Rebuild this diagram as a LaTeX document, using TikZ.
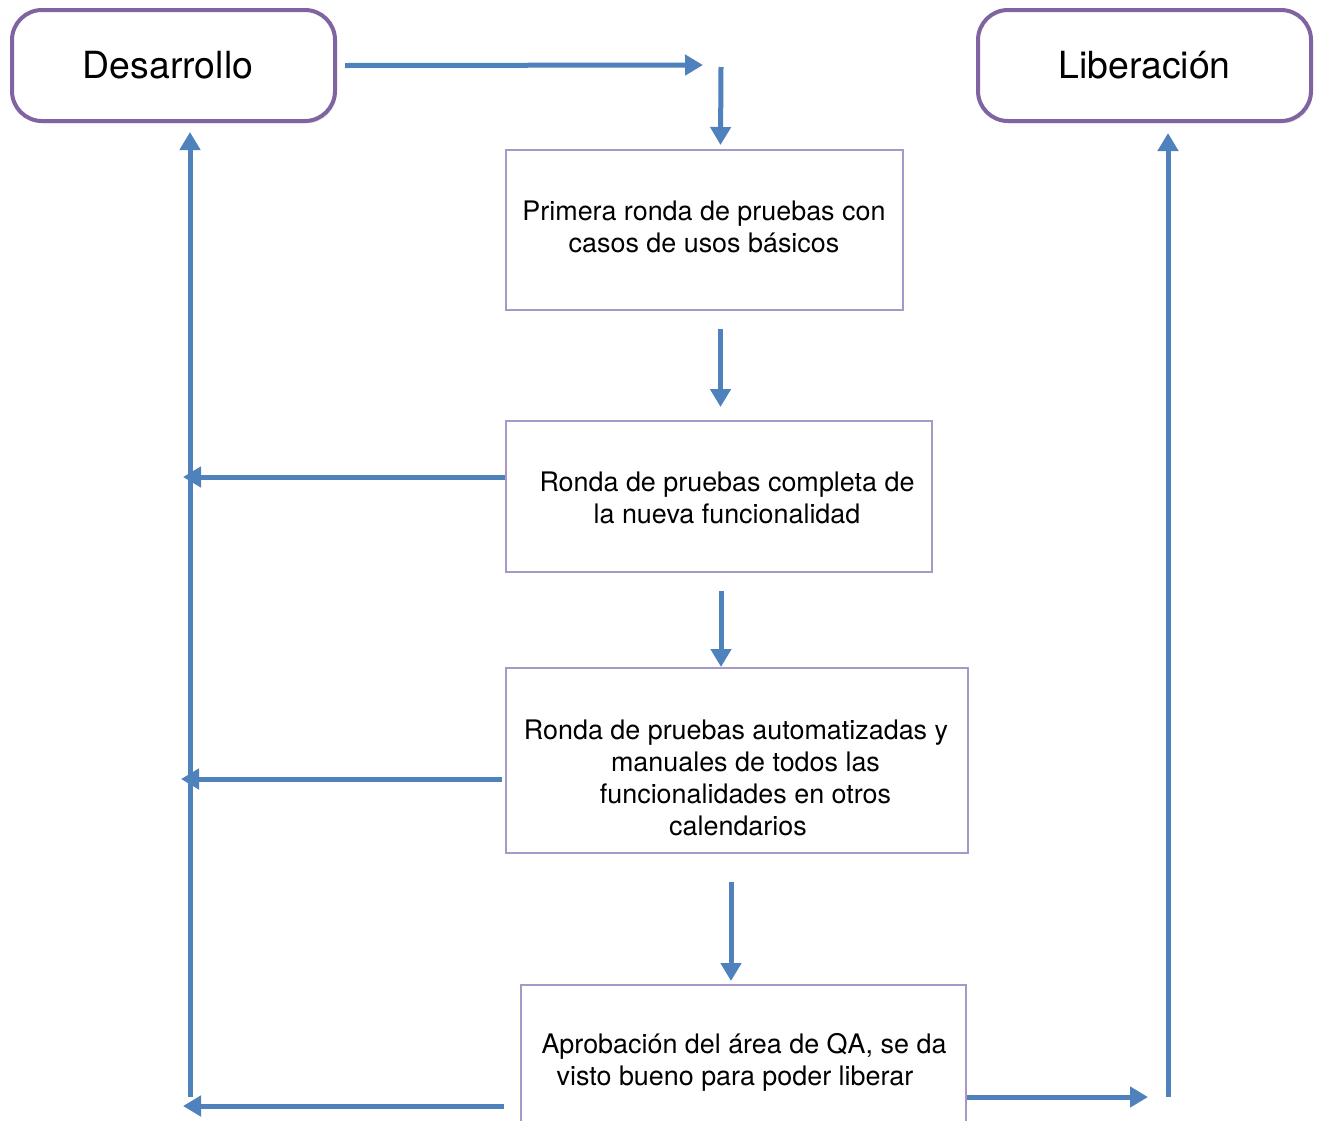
\documentclass[tikz,border=0pt]{standalone}
\usepackage{fontspec}
\setmainfont{TeX Gyre Heros}
\usetikzlibrary{arrows.meta,shadows}
\definecolor{flujo}{HTML}{4F81BD}
\definecolor{marco}{HTML}{8064A2}
\definecolor{marcoclaro}{HTML}{A898C9}
\tikzset{
  etapa/.style={draw=marco, line width=2pt, rounded corners=15pt, fill=white, inner sep=0pt,
    drop shadow={opacity=0.2, shadow xshift=0.8pt, shadow yshift=-1.2pt},
    font=\fontsize{18.7}{22}\selectfont},
  prueba/.style={draw=marcoclaro, line width=1pt, inner sep=0pt},
  texto/.style={align=center, inner sep=0pt, font=\fontsize{13.45}{16}\selectfont},
  flecha/.style={draw=flujo, line width=2.5pt, -{Triangle[length=9pt,width=10pt]}},
}
% name, cx, cy, w, h, text x, text y, text
\newcommand{\caja}[8]{
  \node[prueba, minimum width=#4*0.5pt, minimum height=#5*0.5pt] (#1) at (#2,#3) {};
  \node[texto] (#1t) at (#6,#7) {#8};}

\begin{document}
\begin{tikzpicture}[x=0.5pt,y=-0.5pt]
  \clip (0,0) rectangle (1321,1120);
  \fill[white] (0,0) rectangle (1321,1120);

  % stages
  \node[etapa, minimum width=161.5pt, minimum height=55.5pt] (des) at (173.5,65.5) {Desarrollo\hspace*{5.5pt}};
  \node[etapa, minimum width=166.5pt, minimum height=55.5pt] (lib) at (1144.5,65.5) {Liberación};

  % test rounds
  \caja{p1}{704.5}{230}{397}{160}{704}{227}{Primera ronda de pruebas con\\casos de usos básicos}
  \caja{p2}{719}{496.5}{426}{151}{727}{498}{Ronda de pruebas completa de\\la nueva funcionalidad}
  \caja{p3}{737}{760.5}{462}{185}{740}{778}{Ronda de pruebas automatizadas y\hspace*{4pt}\\
    \hspace*{5.5pt}manuales de todos las\\\hspace*{5.5pt}funcionalidades en otros\\calendarios\hspace*{2pt}}
  \caja{p4}{743.5}{1062.5}{445}{155}{741}{1062}{\hspace*{3pt}Aprobación del área de QA, se da\\visto bueno para poder liberar\hspace*{6pt}}

  % rails
  \coordinate (entrada) at (721,65);
  \coordinate (izq) at (190,1097);
  \coordinate (der) at (1168,1097);

  % main flow
  \draw[flecha] ([xshift=4pt]des.east) -- ([xshift=-9pt]entrada);
  \draw[flecha] ([yshift=-1pt]entrada) -- ([xshift=8pt,yshift=2pt]p1.north);
  \draw[flecha] ([xshift=8pt,yshift=-9pt]p1.south) -- ([xshift=8pt,yshift=6.5pt]p1.south |- p2.north);
  \draw[flecha] ([xshift=1pt,yshift=-9pt]p2.south) -- ([xshift=1pt]p2.south |- p3.north);
  \draw[flecha] ([xshift=-3pt,yshift=-14pt]p3.south) -- ([xshift=-3pt,yshift=1.5pt]p3.south |- p4.north);

  % back to development
  \draw[flecha] (izq) -- ([yshift=-4.5pt]izq |- des.south);
  \draw[flecha] ([yshift=9.75pt]p2.west) -- ([xshift=-3.5pt,yshift=9.75pt]p2.west -| izq);
  \draw[flecha] ([xshift=-1.5pt,yshift=-9.25pt]p3.west) -- ([xshift=-4.5pt,yshift=-9.25pt]p3.west -| izq);
  \draw[flecha] ([xshift=-8pt,yshift=-21.75pt]p4.west) -- ([xshift=-3.5pt,yshift=-21.75pt]p4.west -| izq);

  % release
  \draw[flecha] ([yshift=-17.25pt]p4.east) -- ([xshift=-10pt,yshift=-17.25pt]p4.east -| der);
  \draw[flecha] (der) -- ([yshift=-5pt]der |- lib.south);
\end{tikzpicture}
\end{document}
